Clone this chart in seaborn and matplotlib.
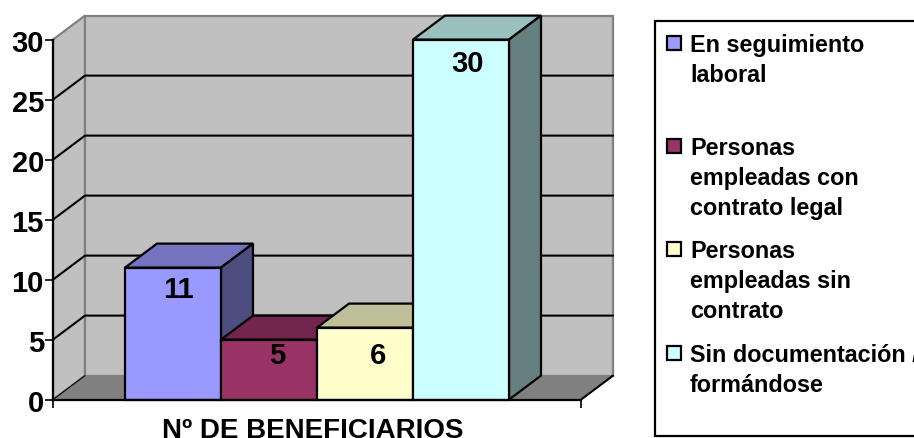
import matplotlib
matplotlib.use("Agg")
import matplotlib.pyplot as plt
from matplotlib.patches import Polygon, Rectangle
from matplotlib.colors import to_rgb
import seaborn as sns

categories = ["En seguimiento\nlaboral", "Personas\nempleadas con\ncontrato legal",
              "Personas\nempleadas sin\ncontrato", "Sin documentación /\nformándose"]
values = [11, 5, 6, 30]
colors = ["#9999FF", "#993366", "#FFFFCC", "#CCFFFF"]
yticks = [0, 5, 10, 15, 20, 25, 30]
axis_label = "Nº DE BENEFICIARIOS"

W, H = 914, 439
sns.set_theme(style="white")
plt.rcParams["font.family"] = ["Liberation Sans", "DejaVu Sans"]
plt.rcParams["font.weight"] = "bold"

fig = plt.figure(figsize=(W / 100, H / 100), dpi=100, facecolor="white")
L, R, T, B = 53, 581, 40.6, 400.6
ax = fig.add_axes([L / W, 1 - B / H, (R - L) / W, (B - T) / H])
ax.patch.set_alpha(0)

sns.barplot(x=list(range(len(values))), y=values, hue=list(range(len(values))),
            palette=colors, saturation=1, width=1, dodge=False, legend=False, native_scale=True,
            edgecolor="black", linewidth=1.6, ax=ax)

x0, x1 = -1.25, 4.25
y0, y1 = 0, 30
ax.set_xlim(x0, x1)
ax.set_ylim(y0, y1)
dx, dy = 1 / 3, 2   # oblique depth in data units


def poly(points, fc, ec="none", lw=0, z=1):
    ax.add_patch(Polygon(points, closed=True, facecolor=fc, edgecolor=ec, linewidth=lw,
                         zorder=z, clip_on=False, joinstyle="miter"))


wall = "#C0C0C0"
floor = "#808080"
edge = "#808080"
poly([(x0, y0), (x0 + dx, dy), (x0 + dx, y1 + dy), (x0, y1)], wall, edge, 1.6, 0.5)
poly([(x0 + dx, dy), (x1 + dx, dy), (x1 + dx, y1 + dy), (x0 + dx, y1 + dy)], wall, edge, 1.6, 0.5)
poly([(x0, y0), (x1, y0), (x1 + dx, dy), (x0 + dx, dy)], floor, edge, 0.8, 0.6)

for t in yticks[1:-1]:
    ax.plot([x0, x0 + dx, x1 + dx], [t, t + dy, t + dy], color="black", lw=1.5,
            clip_on=False, zorder=0.8, solid_joinstyle="miter")
ax.plot([x0, x0 + dx], [y0, dy], color="black", lw=0.8, clip_on=False, zorder=0.8)
ax.plot([x1, x1 + dx], [y0, dy], color="black", lw=1.5, clip_on=False, zorder=0.8)

for i, (v, c) in enumerate(zip(values, colors)):
    rgb = to_rgb(c)
    top = tuple(k * 0.75 for k in rgb)
    side = tuple(k * 0.5 for k in rgb)
    a, b = i - 0.5, i + 0.5
    z = 3 + 2 * i
    poly([(a, v), (b, v), (b + dx, v + dy), (a + dx, v + dy)], top, "black", 1.6, z)
    poly([(b, 0), (b + dx, dy), (b + dx, v + dy), (b, v)], side, "black", 1.6, z)
    ax.patches[i].set_zorder(z + 1)
    ax.patches[i].set_clip_on(False)

offsets = [(5, -21), (8, -15), (13, -27), (7, -23)]
for i, v in enumerate(values):
    ax.annotate(str(v), (i, v), xytext=offsets[i], textcoords="offset pixels",
                ha="center", va="center", fontsize=21, fontweight="bold",
                color="black", zorder=20, annotation_clip=False)

ax.set_yticks(yticks)
ax.set_xticks([x0, x1])
ax.set_xticklabels(["", ""])
ax.tick_params(axis="both", length=5.5, width=1.2, color="black", labelcolor="black",
               left=True, bottom=True, pad=1)
ax.tick_params(axis="y", labelsize=21)
for s in ("top", "right"):
    ax.spines[s].set_visible(False)
for s in ("left", "bottom"):
    ax.spines[s].set_color("black")
    ax.spines[s].set_linewidth(1.6)
    ax.spines[s].set_zorder(15)
ax.set_xlabel("")
ax.set_ylabel("")

fig.text(312.5 / W, 1 - 438.5 / H, axis_label, ha="center", va="baseline", fontsize=20,
         fontweight="bold", color="black")

# legend panel
fig.add_artist(Rectangle((655 / W, 1 - 437 / H), 300 / W, 415 / H, transform=fig.transFigure,
                         facecolor="white", edgecolor="black", linewidth=1.6, clip_on=True))
entry_y = [44, 147, 250, 354]
for lab, c, yy in zip(categories, colors, entry_y):
    fig.add_artist(Rectangle((667 / W, 1 - (yy + 7) / H), 14 / W, 14 / H,
                             transform=fig.transFigure, facecolor=c, edgecolor="black",
                             linewidth=1.6))
    fig.text(690 / W, 1 - (yy - 10) / H, lab, ha="left", va="top", fontsize=16.8,
             fontweight="bold", color="black", linespacing=1.38)

fig.savefig("out.png", dpi=100, facecolor="white")
